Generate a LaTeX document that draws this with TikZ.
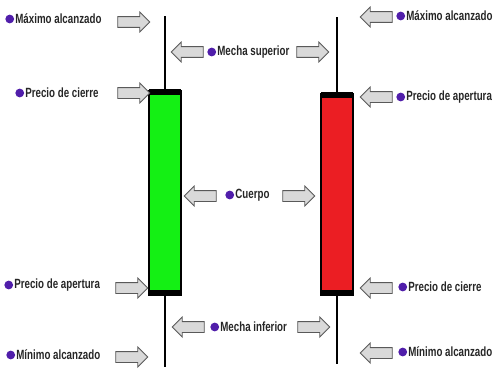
\documentclass[tikz,border=0pt]{standalone}
\usepackage{fontspec}
\setmainfont[FakeStretch=0.73]{Liberation Sans}
\usetikzlibrary{shapes.arrows,positioning}
\definecolor{morado}{RGB}{80,30,170}
\definecolor{verde}{RGB}{20,240,20}
\definecolor{rojo}{RGB}{235,30,35}
\tikzset{flecha/.style={single arrow,draw=gray!70!black,fill=gray!30,line width=0.5pt,
        minimum width=0.38cm,minimum height=0.64cm,inner sep=0.1cm,single arrow head extend=0.09cm},
    der/.style={flecha},
    izq/.style={flecha,shape border rotate=180},
    rotulo/.style={anchor=west,inner sep=0pt,font=\fontsize{7.6}{8}\selectfont\bfseries,text=black!85,
        label={[circle,fill=morado,inner sep=0pt,minimum size=5pt,outer sep=0.5pt]left:{}}}}

\begin{document}
\begin{tikzpicture}[x=0.02cm,y=-0.02cm]
                \useasboundingbox (0,0) rectangle (494,372);
                \def\a{165}
                \def\b{337}
                % velas
                \draw[line width=1.5pt] (\a,16) -- (\a,367);
                \draw[line width=1.5pt] (\b,17) -- (\b,364);
                \draw[fill=verde,line width=0.8pt] (149,91) rectangle (181,295);
                \draw[fill=rojo,line width=0.8pt] (321,94) rectangle (353,295);
                \fill (149,89) rectangle (181,95);
                \fill (149,290) rectangle (181,296);
                \fill (321,92) rectangle (353,98);
                \fill (321,290) rectangle (353,296);
                % lado izquierdo
                \node[rotulo] (maxa) at (15,19) {Máximo alcanzado};
                \node[rotulo] (cierrea) at (25,93) {Precio de cierre};
                \node[rotulo] (aperta) at (14,285) {Precio de apertura};
                \node[rotulo] (mina) at (16,355) {Mínimo alcanzado};
                \node[der] (fmaxa) at (131,22) {};
                \node[der] (fcierrea) at (131,93) {};
                \node[der] (fperta) at (129,288) {};
                \node[der] (fmina) at (129,357) {};
                % centro
                \node[rotulo] (msup) at (217,52) {Mecha superior};
                \node[rotulo] (cuerpo) at (235,195) {Cuerpo};
                \node[rotulo] (minf) at (220,327) {Mecha inferior};
                \node[izq] (fmsupi) at (190,52) {};
                \node[der] (fmsupd) at (310,52) {};
                \node[izq] (fcuerpoi) at (203,196) {};
                \node[der] (fcuerpod) at (296,196) {};
                \node[izq] (fminfi) at (191,327) {};
                \node[der] (fminfd) at (311,327) {};
                % lado derecho
                \node[rotulo] (maxb) at (406,16) {Máximo alcanzado};
                \node[rotulo] (apertb) at (406,97) {Precio de apertura};
                \node[rotulo] (cierreb) at (408,287) {Precio de cierre};
                \node[rotulo] (minb) at (408,352) {Mínimo alcanzado};
                \node[izq] (fmaxb) at (379,17) {};
                \node[izq] (fpertb) at (379,97) {};
                \node[izq] (fcierreb) at (379,288) {};
                \node[izq] (fminb) at (379,353) {};
            \end{tikzpicture}
\end{document}
